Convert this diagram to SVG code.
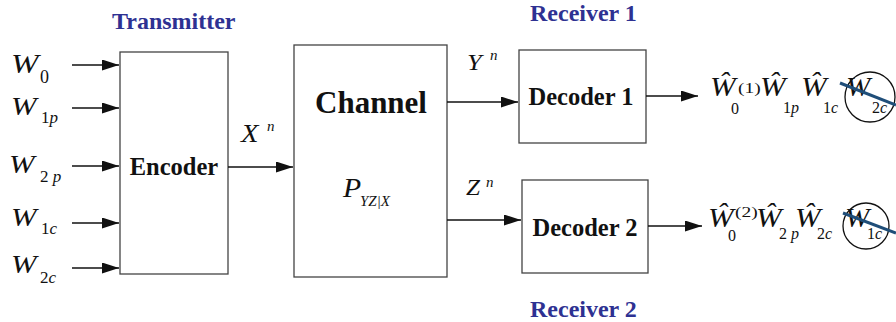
<svg xmlns="http://www.w3.org/2000/svg" width="896" height="322" viewBox="0 0 896 322">
<defs>
<marker id="ah" markerUnits="userSpaceOnUse" markerWidth="18" markerHeight="12" refX="17" refY="5.5" orient="auto">
<path d="M0,0 L17,5.5 L0,11 Z" fill="#111"/>
</marker>
<style>
.box{fill:#fff;stroke:#444;stroke-width:1.3}
.con{stroke:#111;stroke-width:1.3;fill:none;marker-end:url(#ah)}
.title{font-family:'Liberation Serif','Times New Roman',serif;font-weight:bold;fill:#2E3192}
.lbl{font-family:'Liberation Serif','Times New Roman',serif;font-weight:bold;fill:#111}
.it{font-family:'Liberation Serif','Times New Roman',serif;font-style:italic;fill:#111}
.rm{font-family:'Liberation Serif','Times New Roman',serif;font-style:normal;fill:#111}
.strike{stroke:#1F4E79;stroke-width:3}
.circ{fill:none;stroke:#111;stroke-width:1.3}
</style>
</defs>
<text class="title" x="112" y="29" font-size="24">Transmitter</text>
<text class="title" x="530" y="21" font-size="24">Receiver 1</text>
<text class="title" x="530" y="317" font-size="24">Receiver 2</text>

<g id="inputs">
<text class="it" font-size="28" transform="translate(11 73) scale(1.18 1)">W</text>
<text class="rm" x="40" y="83" font-size="18">0</text>
<text class="it" font-size="26" transform="translate(11 115) scale(1.18 1)">W</text>
<text x="41" y="123" font-size="17"><tspan class="rm">1</tspan><tspan class="it">p</tspan></text>
<text class="it" font-size="26" transform="translate(9 173) scale(1.18 1)">W</text>
<text x="40" y="182" font-size="17"><tspan class="rm">2</tspan><tspan class="it"> p</tspan></text>
<text class="it" font-size="26" transform="translate(11 226) scale(1.18 1)">W</text>
<text x="41" y="234" font-size="17"><tspan class="rm">1</tspan><tspan class="it">c</tspan></text>
<text class="it" font-size="26" transform="translate(11 273) scale(1.18 1)">W</text>
<text x="40" y="283" font-size="17"><tspan class="rm">2</tspan><tspan class="it">c</tspan></text>
</g>

<g id="encoder">
<rect class="box" x="120" y="52" width="108" height="222"/>
<text class="lbl" x="174" y="175" text-anchor="middle" font-size="24.5">Encoder</text>
</g>

<g id="channel">
<rect class="box" x="294" y="45" width="153" height="232"/>
<text class="lbl" x="371" y="113" text-anchor="middle" font-size="31">Channel</text>
<text class="it" font-size="27" transform="translate(343 197) scale(1.1 1)">P</text>
<text class="it" x="360" y="206" font-size="15">YZ|X</text>
</g>

<g id="decoder1">
<rect class="box" x="519" y="50" width="127" height="93"/>
<text class="lbl" x="581" y="105" text-anchor="middle" font-size="24.5">Decoder 1</text>
</g>

<g id="decoder2">
<rect class="box" x="522" y="180" width="126" height="93"/>
<text class="lbl" x="585" y="236" text-anchor="middle" font-size="24.5">Decoder 2</text>
</g>

<g id="connectors">
<line class="con" x1="72" y1="65" x2="119" y2="65"/>
<line class="con" x1="72" y1="108" x2="119" y2="108"/>
<line class="con" x1="72" y1="166" x2="119" y2="166"/>
<line class="con" x1="72" y1="223" x2="119" y2="223"/>
<line class="con" x1="72" y1="268" x2="119" y2="268"/>
<line class="con" x1="228" y1="167" x2="293" y2="167"/>
<line class="con" x1="447" y1="102" x2="518" y2="102"/>
<line class="con" x1="447" y1="220" x2="521" y2="220"/>
<line class="con" x1="646" y1="96" x2="698" y2="96"/>
<line class="con" x1="648" y1="226" x2="702" y2="226"/>
</g>

<g id="edge-labels">
<text class="it" font-size="26" transform="translate(241 142) scale(1.1 1)">X</text>
<text class="it" x="267" y="131" font-size="15">n</text>
<text class="it" font-size="24" transform="translate(467 70) scale(1.1 1)">Y</text>
<text class="it" x="490" y="60" font-size="15">n</text>
<text class="it" font-size="24" transform="translate(466 195) scale(1.05 1)">Z</text>
<text class="it" x="486" y="187" font-size="15">n</text>
</g>

<g id="output1">
<text class="it" font-size="27" transform="translate(710 96) scale(1.14 1)">Ŵ</text>
<text class="rm" x="731" y="114" font-size="16">0</text>
<text class="rm" font-size="15" transform="translate(738 93) scale(1.3 1)">(1)</text>
<text class="it" font-size="27" transform="translate(760 96) scale(1.14 1)">Ŵ</text>
<text x="783" y="113" font-size="16"><tspan class="rm">1</tspan><tspan class="it">p</tspan></text>
<text class="it" font-size="27" transform="translate(801 96) scale(1.14 1)">Ŵ</text>
<text x="823" y="113" font-size="16"><tspan class="rm">1</tspan><tspan class="it">c</tspan></text>
<circle class="circ" cx="870" cy="97" r="25"/>
<text class="it" font-size="27" transform="translate(846 96) scale(1.08 1)">W</text>
<text x="872" y="113" font-size="16"><tspan class="rm">2</tspan><tspan class="it">c</tspan></text>
<line class="strike" x1="840" y1="83" x2="896" y2="105"/>
</g>

<g id="output2">
<text class="it" font-size="27" transform="translate(708 227) scale(1.14 1)">Ŵ</text>
<text class="rm" x="728" y="241" font-size="16">0</text>
<text class="rm" font-size="15" transform="translate(735 217) scale(1.3 1)">(2)</text>
<text class="it" font-size="27" transform="translate(756 227) scale(1.14 1)">Ŵ</text>
<text x="779" y="239" font-size="16"><tspan class="rm">2</tspan><tspan class="it"> p</tspan></text>
<text class="it" font-size="27" transform="translate(795 227) scale(1.14 1)">Ŵ</text>
<text x="817" y="239" font-size="16"><tspan class="rm">2</tspan><tspan class="it">c</tspan></text>
<circle class="circ" cx="866" cy="226" r="23"/>
<text class="it" font-size="27" transform="translate(845 227) scale(1.08 1)">W</text>
<text x="867" y="239" font-size="16"><tspan class="rm">1</tspan><tspan class="it">c</tspan></text>
<line class="strike" x1="843" y1="213" x2="896" y2="233"/>
</g>
</svg>
